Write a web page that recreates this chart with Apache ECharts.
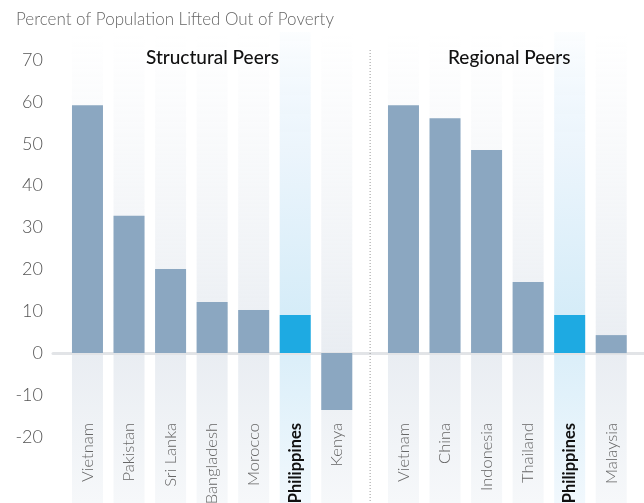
<!DOCTYPE html>
<html>
<head>
<meta charset="utf-8">
<script src="https://cdn.jsdelivr.net/npm/echarts@6/dist/echarts.min.js"></script>
<style>
  html, body { margin: 0; padding: 0; background: #fff; }
  #chart { width: 644px; height: 503px; }
</style>
</head>
<body>
<div id="chart"></div>
<script>
const structuralCountries = ['Vietnam', 'Pakistan', 'Sri Lanka', 'Bangladesh', 'Morocco', 'Philippines', 'Kenya']
const structuralValues = [59.2, 32.8, 20.1, 12.2, 10.3, 9.1, -13.6]
const regionalCountries = ['Vietnam', 'China', 'Indonesia', 'Thailand', 'Philippines', 'Malaysia']
const regionalValues = [59.2, 56.1, 48.5, 17.0, 9.1, 4.3]
const yTicks = [-20, -10, 0, 10, 20, 30, 40, 50, 60, 70]
const highlight = 'Philippines'

const chart = echarts.init(document.getElementById('chart'))

const FONT = 'Lato, "Noto Sans", sans-serif'
const Y_MIN = -35.8
const Y_MAX = 76.7
const BAND = 41.55
// 左右两组的网格
const leftGrid = { left: 66.7, width: BAND * 7 }
const rightGrid = { left: 382.7, width: BAND * 6 }
const gridBase = { top: 32, bottom: 0, outerBoundsMode: 'none', containLabel: false }

const grayBg = new echarts.graphic.LinearGradient(0, 0, 0, 1, [
  { offset: 0, color: 'rgba(238,241,245,0)' },
  { offset: 0.25, color: 'rgba(238,241,245,0.4)' },
  { offset: 0.68, color: '#e9edf2' },
  { offset: 1, color: '#f6f8fa' }
])
const blueBg = new echarts.graphic.LinearGradient(0, 0, 0, 1, [
  { offset: 0, color: 'rgba(225,240,251,0.1)' },
  { offset: 0.25, color: '#ecf5fc' },
  { offset: 0.6, color: '#d5ecf8' },
  { offset: 1, color: '#f1f8fd' }
])

const catAxis = (gridIndex, data) => ({
  type: 'category',
  gridIndex,
  data,
  position: 'bottom',
  offset: -82,
  axisLine: { show: false },
  axisTick: { show: false },
  axisLabel: {
    rotate: 90,
    margin: 2,
    interval: 0,
    color: '#666',
    fontFamily: FONT,
    fontWeight: 300,
    fontSize: 16.5,
    formatter: (v) => (v === highlight ? '{b|' + v + '}' : v),
    rich: {
      b: { fontWeight: 'bold', color: '#111', fontFamily: FONT, fontSize: 16.5 }
    }
  }
})

const hiddenY = (gridIndex, min, max) => ({
  type: 'value',
  gridIndex,
  min,
  max,
  show: false,
  splitLine: { show: false }
})

const bgSeries = (axisIdx, cats) => ({
  type: 'bar',
  xAxisIndex: axisIdx,
  yAxisIndex: axisIdx * 2,
  barWidth: 31,
  barGap: '-100%',
  silent: true,
  z: 0,
  data: cats.map((c) => ({ value: 1, itemStyle: { color: c === highlight ? blueBg : grayBg } }))
})

const valSeries = (axisIdx, cats, vals) => ({
  type: 'bar',
  xAxisIndex: axisIdx,
  yAxisIndex: axisIdx * 2 + 1,
  barWidth: 31,
  barGap: '-100%',
  z: 2,
  data: vals.map((v, i) => ({
    value: v,
    itemStyle: { color: cats[i] === highlight ? '#1eaae2' : '#8ba7c1' }
  }))
})

const option = {
  animation: false,
  textStyle: { fontFamily: FONT },
  title: {
    text: 'Percent of Population Lifted Out of Poverty',
    left: 11,
    top: 6,
    textStyle: { color: '#666', fontSize: 17, fontWeight: 300, fontFamily: FONT }
  },
  grid: [
    Object.assign({ left: 53, right: 0 }, gridBase),
    Object.assign({ left: leftGrid.left, width: leftGrid.width }, gridBase),
    Object.assign({ left: rightGrid.left, width: rightGrid.width }, gridBase)
  ],
  xAxis: [
    catAxis(1, structuralCountries),
    catAxis(2, regionalCountries),
    {
      // 零线
      type: 'category',
      gridIndex: 0,
      data: [],
      z: 1,
      axisLine: { onZero: true, lineStyle: { color: '#e2e4e7', width: 3 } },
      axisTick: { show: false },
      axisLabel: { show: false }
    }
  ],
  yAxis: [
    hiddenY(1, 0, 1),
    hiddenY(1, Y_MIN, Y_MAX),
    hiddenY(2, 0, 1),
    hiddenY(2, Y_MIN, Y_MAX),
    {
      type: 'value',
      gridIndex: 0,
      min: Y_MIN,
      max: Y_MAX,
      axisLine: { show: false },
      axisTick: { show: false },
      splitLine: { show: false },
      axisLabel: {
        customValues: yTicks,
        margin: 10,
        color: '#555',
        fontFamily: FONT,
        fontWeight: 300,
        fontSize: 18
      }
    }
  ],
  series: [
    bgSeries(0, structuralCountries),
    valSeries(0, structuralCountries, structuralValues),
    bgSeries(1, regionalCountries),
    valSeries(1, regionalCountries, regionalValues),
    // 占位，让零线所在的坐标轴生效
    { type: 'bar', xAxisIndex: 2, yAxisIndex: 4, data: [] }
  ],
  graphic: [
    {
      type: 'text',
      left: 146,
      top: 48,
      z: 10,
      style: { text: 'Structural Peers', fill: '#111', font: '500 19px ' + FONT }
    },
    {
      type: 'text',
      left: 448,
      top: 48,
      z: 10,
      style: { text: 'Regional Peers', fill: '#111', font: '500 19px ' + FONT }
    },
    {
      type: 'line',
      z: 10,
      shape: {
        x1: (leftGrid.left + leftGrid.width + rightGrid.left) / 2,
        y1: 50,
        x2: (leftGrid.left + leftGrid.width + rightGrid.left) / 2,
        y2: 503
      },
      style: { stroke: '#999', lineWidth: 1, lineDash: [1, 2] }
    }
  ]
}

chart.setOption(option)
</script>
</body>
</html>
